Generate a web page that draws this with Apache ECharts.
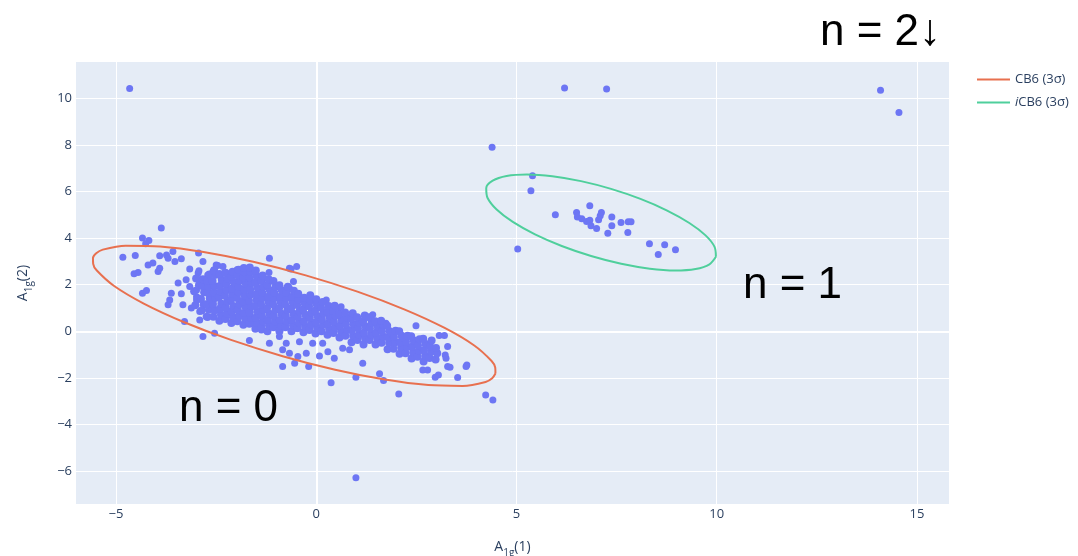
<!DOCTYPE html>
<html>
<head>
<meta charset="utf-8">
<script src="https://cdn.jsdelivr.net/npm/echarts@6/dist/echarts.min.js"></script>
<style>
html,body{margin:0;padding:0;background:#fff;}
#chart{width:1078px;height:556px;}
</style>
</head>
<body>
<div id="chart"></div>
<script>
// ---- tick labels ----
const xTicks = [-5, 0, 5, 10, 15];
const yTicks = [-6, -4, -2, 0, 2, 4, 6, 8, 10];

// ---- legend / series names ----
const ellipseNames = ['CB6 (3σ)', 'iCB6 (3σ)'];

// ---- n = 0 cluster: sparse / individually read points ----
const n0Sparse = [
  [-4.66,10.41],[0.99,-6.27],[4.23,-2.73],[4.41,-2.94],
  [-3.87,4.43],[-4.34,4.00],[-4.18,3.90],[-4.26,3.76],[-4.83,3.18],[-4.52,3.25],[-3.91,3.24],[-3.74,3.28],
  [-3.70,3.14],[-3.58,3.43],[-3.53,3.00],[-3.37,3.11],[-4.08,2.93],[-4.20,2.85],[-3.91,2.71],[-3.95,2.57],
  [-4.45,2.52],[-4.55,2.47],[-2.94,3.36],[-2.83,3.00],[-3.16,2.67],[-2.95,2.50],[-2.91,2.21],[-2.50,2.85],
  [-2.29,2.50],[-2.71,2.42],[-3.45,2.07],[-3.25,2.21],[-3.37,1.61],[-3.62,1.64],[-3.66,1.35],[-3.70,1.14],
  [-4.34,1.64],[-4.24,1.75],[-3.33,1.14],[-3.29,0.42],[-2.83,-0.22],[-2.54,-0.08],[-3.16,1.92],[-2.99,1.78],
  [-2.99,1.35],[-3.12,1.00],[-2.91,0.85],[-2.75,0.64],[-2.91,0.49],[-2.99,1.49],
  [-2.93,2.60],[-2.46,2.83],[-0.63,2.67],[-2.58,2.57],[-2.25,2.50],[-1.98,2.64],
  [-1.17,3.14],[-0.67,2.71],[-0.49,2.78],[-1.18,2.52],[-0.57,2.14],[-0.67,1.85],[0.25,1.35],[0.08,1.21],
  [0.58,1.00],[-1.67,-0.39],[-1.58,0.35],[-1.37,0.06],[-1.17,-0.51],[-0.92,-0.22],[-0.84,-0.79],[-0.67,-0.94],
  [-0.46,-1.08],[-0.84,-1.51],[-0.54,-1.37],[-0.19,-1.51],[0.08,-1.05],[0.29,-0.87],[0.45,-1.15],[0.37,-2.20],
  [-0.25,-0.94],[-0.42,-0.44],[-0.75,-0.51],[-0.09,-0.51],[0.16,-0.51],[-1.00,0.21],[-1.33,0.57],[-2.37,0.71],
  [-2.08,0.64],[-2.33,2.78],[-2.04,2.50],
  [2.49,0.24],[3.07,-0.18],[3.20,-0.18],[3.28,-0.65],[3.22,-1.01],[3.24,-1.15],[3.28,-1.51],[3.34,-1.54],
  [3.05,-1.87],[2.97,-1.97],[3.53,-1.98],[3.76,-1.44],[3.74,-1.51],[2.66,-1.65],[2.78,-1.65],[1.16,-1.37],
  [0.99,-1.97],[1.58,-1.82],[1.68,-2.11],[2.06,-2.68],[0.66,-0.72],[0.83,-0.79],[1.41,0.71],[1.74,0.35],[0.62,1.06]
];

// ---- n = 0 cluster: dense core ----
const n0Core = [
  [-3.02,1.12],[-2.96,1.41],[-3.05,1.72],[-2.93,1.98],[-3.00,2.27],
  [-2.86,0.90],[-2.81,1.15],[-2.88,1.39],[-2.80,1.68],[-2.85,1.95],[-2.83,2.24],
  [-2.72,0.62],[-2.68,0.93],[-2.74,1.16],[-2.66,1.42],[-2.71,1.66],[-2.69,1.91],[-2.73,2.17],[-2.67,2.44],
  [-2.57,0.63],[-2.53,0.91],[-2.58,1.18],[-2.52,1.43],[-2.56,1.67],[-2.54,1.94],[-2.59,2.16],[-2.51,2.43],[-2.55,2.62],
  [-2.42,0.46],[-2.38,0.71],[-2.41,0.97],[-2.37,1.19],[-2.43,1.46],[-2.39,1.71],[-2.40,1.96],[-2.36,2.21],[-2.42,2.46],
  [-2.27,0.53],[-2.23,0.78],[-2.26,1.01],[-2.22,1.28],[-2.28,1.53],[-2.24,1.76],[-2.25,2.03],[-2.21,2.26],[-2.27,2.51],
  [-2.12,0.36],[-2.08,0.61],[-2.11,0.86],[-2.07,1.09],[-2.13,1.36],[-2.09,1.61],[-2.10,1.84],[-2.06,2.11],[-2.12,2.34],[-2.09,2.56],
  [-1.97,0.43],[-1.93,0.68],[-1.96,0.93],[-1.92,1.16],[-1.98,1.43],[-1.94,1.68],[-1.95,1.91],[-1.91,2.18],[-1.97,2.41],[-1.94,2.64],
  [-1.82,0.29],[-1.78,0.56],[-1.81,0.79],[-1.77,1.06],[-1.83,1.29],[-1.79,1.54],[-1.80,1.81],[-1.76,2.04],[-1.82,2.31],[-1.79,2.54],[-1.81,2.72],
  [-1.67,0.33],[-1.63,0.58],[-1.66,0.81],[-1.62,1.08],[-1.68,1.31],[-1.64,1.58],[-1.65,1.81],[-1.61,2.08],[-1.67,2.31],[-1.64,2.56],[-1.66,2.74],
  [-1.52,0.11],[-1.48,0.36],[-1.51,0.59],[-1.47,0.86],[-1.53,1.09],[-1.49,1.36],[-1.50,1.59],[-1.46,1.86],[-1.52,2.09],[-1.49,2.36],[-1.51,2.61],
  [-1.37,0.18],[-1.33,0.43],[-1.36,0.66],[-1.32,0.93],[-1.38,1.16],[-1.34,1.43],[-1.35,1.66],[-1.31,1.93],[-1.37,2.16],[-1.34,2.40],
  [-1.22,0.01],[-1.18,0.26],[-1.21,0.49],[-1.17,0.76],[-1.23,0.99],[-1.19,1.26],[-1.20,1.49],[-1.16,1.76],[-1.22,1.99],[-1.19,2.24],
  [-1.07,0.18],[-1.03,0.43],[-1.06,0.66],[-1.02,0.93],[-1.08,1.16],[-1.04,1.43],[-1.05,1.66],[-1.01,1.93],[-1.07,2.16],
  [-0.92,0.01],[-0.88,0.26],[-0.91,0.49],[-0.87,0.76],[-0.93,0.99],[-0.89,1.26],[-0.90,1.49],[-0.86,1.76],[-0.92,1.98],
  [-0.77,0.18],[-0.73,0.43],[-0.76,0.66],[-0.72,0.93],[-0.78,1.16],[-0.74,1.43],[-0.75,1.66],[-0.71,1.91],
  [-0.62,0.01],[-0.58,0.26],[-0.61,0.49],[-0.57,0.76],[-0.63,0.99],[-0.59,1.26],[-0.60,1.49],[-0.56,1.74],
  [-0.47,0.14],[-0.43,0.38],[-0.46,0.63],[-0.42,0.86],[-0.48,1.13],[-0.44,1.36],[-0.45,1.61],
  [-0.32,-0.04],[-0.28,0.21],[-0.31,0.44],[-0.27,0.71],[-0.33,0.94],[-0.29,1.21],[-0.30,1.44],
  [-0.17,0.06],[-0.13,0.31],[-0.16,0.58],[-0.12,0.81],[-0.18,1.08],[-0.14,1.31],[-0.15,1.55],
  [-0.02,-0.09],[0.02,0.16],[-0.01,0.39],[0.03,0.66],[-0.03,0.89],[0.01,1.16],[0.00,1.38],
  [0.13,0.01],[0.17,0.28],[0.14,0.51],[0.18,0.78],[0.12,1.01],[0.16,1.26],
  [0.28,-0.14],[0.32,0.11],[0.29,0.34],[0.33,0.61],[0.27,0.84],[0.31,1.09],
  [0.43,-0.07],[0.47,0.18],[0.44,0.41],[0.48,0.68],[0.42,0.89],[0.46,1.10],
  [0.58,-0.26],[0.62,0.01],[0.59,0.24],[0.63,0.51],[0.57,0.74],
  [0.73,-0.19],[0.77,0.08],[0.74,0.31],[0.78,0.58],[0.72,0.81],
  [0.88,-0.46],[0.92,-0.19],[0.89,0.04],[0.93,0.31],[0.87,0.54],[0.91,0.78],
  [1.03,-0.37],[1.07,-0.14],[1.04,0.13],[1.08,0.36],[1.02,0.61],
  [1.18,-0.56],[1.22,-0.29],[1.19,-0.06],[1.23,0.21],[1.17,0.44],[1.21,0.68],
  [1.33,-0.37],[1.37,-0.14],[1.34,0.13],[1.38,0.36],[1.32,0.61],
  [1.48,-0.56],[1.52,-0.29],[1.49,-0.06],[1.53,0.21],[1.47,0.44],
  [1.63,-0.49],[1.67,-0.22],[1.64,0.01],[1.68,0.26],[1.62,0.46],
  [1.78,-0.76],[1.82,-0.49],[1.79,-0.26],[1.83,0.01],[1.77,0.24],
  [1.93,-0.74],[1.97,-0.47],[1.94,-0.24],[1.98,0.03],
  [2.08,-0.96],[2.12,-0.69],[2.09,-0.46],[2.13,-0.19],[2.07,0.01],
  [2.23,-0.94],[2.27,-0.67],[2.24,-0.44],[2.28,-0.19],
  [2.38,-1.16],[2.42,-0.89],[2.39,-0.66],[2.43,-0.39],[2.37,-0.21],
  [2.53,-1.09],[2.57,-0.82],[2.54,-0.59],[2.58,-0.34],
  [2.68,-1.29],[2.72,-1.04],[2.69,-0.81],[2.73,-0.54],[2.67,-0.31],
  [2.83,-1.14],[2.87,-0.87],[2.84,-0.64],[2.88,-0.39],
  [2.98,-1.21],[3.02,-0.94],[2.99,-0.71]
];

// ---- n = 1 cluster ----
const n1Points = [
  [5.40,6.67],[5.36,6.03],[5.03,3.53],[5.97,5.00],[6.83,5.39],[6.50,5.10],[6.52,4.90],[6.63,4.83],
  [6.75,4.71],[6.83,4.76],[6.86,4.53],[7.00,4.41],[7.05,4.79],[7.09,4.96],[7.12,5.10],[7.28,4.21],
  [7.38,4.90],[7.38,4.53],[7.61,4.67],[7.79,4.70],[7.86,4.70],[7.78,4.24],[8.32,3.76],[8.70,3.71],
  [8.54,3.30],[8.97,3.50],[4.39,7.89],[6.20,10.44],[7.25,10.39]
];

// ---- n = 2 points ----
const n2Points = [[14.09,10.34],[14.55,9.39]];

// ---- 3σ ellipse outlines (outline vertices) ----
const cb6Ellipse = [
  [4.474,-1.802],[4.393,-2.007],[4.228,-2.166],[3.657,-2.337],[2.798,-2.303],[1.712,-2.067],[0.471,-1.644],
  [-0.839,-1.063],[-2.130,-0.364],[-3.313,0.405],[-4.308,1.193],[-5.047,1.945],[-5.480,2.609],[-5.571,2.895],
  [-5.576,3.142],[-5.495,3.347],[-5.331,3.506],[-4.759,3.677],[-3.900,3.643],[-2.814,3.407],[-1.573,2.984],
  [-0.263,2.403],[1.028,1.704],[2.211,0.935],[3.206,0.147],[3.945,-0.605],[4.378,-1.270],[4.469,-1.555],
  [4.474,-1.802]
];
const icb6Ellipse = [
  [9.980,3.199],[9.818,2.876],[9.472,2.676],[8.964,2.612],[8.330,2.688],[7.614,2.898],[6.863,3.230],
  [6.129,3.660],[5.462,4.159],[4.908,4.692],[4.504,5.224],[4.278,5.718],[4.244,6.141],[4.406,6.464],
  [4.753,6.664],[5.260,6.728],[5.894,6.653],[6.610,6.442],[7.361,6.110],[8.095,5.680],[8.762,5.182],
  [9.316,4.648],[9.721,4.116],[9.946,3.622],[9.980,3.199]
];

// ---- annotations ----
const annotations = ['n = 0', 'n = 1', 'n = 2↓'];

const textColor = '#2a3f5f';
const dotColor = '#6d76f4';
const cb6Color = '#e8704f';
const icb6Color = '#4fcf9c';

const chart = echarts.init(document.getElementById('chart'), null, {renderer: 'canvas'});

const axisNameRich = {
  m: {fontSize: 14, color: textColor, fontFamily: 'Open Sans', verticalAlign: 'middle', lineHeight: 16},
  s: {fontSize: 10, color: textColor, fontFamily: 'Open Sans', verticalAlign: 'bottom', lineHeight: 22}
};
const minusFmt = function (v) { return String(v).replace('-', '\u2212'); };

const option = {
  animation: false,
  backgroundColor: '#ffffff',
  grid: {left: 76, right: 129, top: 62, bottom: 52, containLabel: false, outerBoundsMode: 'none',
    show: true, backgroundColor: '#e5ecf6', borderWidth: 0},
  xAxis: {
    type: 'value', min: -6, max: 15.8,
    name: '{m|A}{s|1g}{m|(1)}', nameLocation: 'middle', nameGap: 32,
    nameTextStyle: {rich: axisNameRich},
    axisLine: {show: false},
    axisTick: {show: false, customValues: xTicks},
    axisLabel: {customValues: xTicks, formatter: minusFmt, color: textColor, fontSize: 13, fontFamily: 'Open Sans', margin: 4},
    splitLine: {show: true, lineStyle: {color: '#ffffff', width: 1}}
  },
  yAxis: {
    type: 'value', min: -7.4, max: 11.55,
    name: '{m|A}{s|1g}{m|(2)}', nameLocation: 'middle', nameGap: 42, nameRotate: 90,
    nameTextStyle: {rich: axisNameRich},
    axisLine: {show: false},
    axisTick: {show: false, customValues: yTicks},
    axisLabel: {customValues: yTicks, formatter: minusFmt, color: textColor, fontSize: 13, fontFamily: 'Open Sans', margin: 4},
    splitLine: {show: true, lineStyle: {color: '#ffffff', width: 1}}
  },
  legend: {
    data: ellipseNames,
    orient: 'vertical',
    left: 972, top: 68,
    icon: 'rect',
    itemWidth: 33, itemHeight: 2, itemGap: 10,
    textStyle: {color: textColor, fontSize: 13, fontFamily: 'Open Sans',
      rich: {it: {fontStyle: 'italic', color: textColor, fontSize: 13, fontFamily: 'Open Sans'}}},
    formatter: function (name) { return name.charAt(0) === 'i' ? '{it|i}' + name.slice(1) : name; }
  },
  series: [
    {
      type: 'scatter', name: 'points',
      data: n0Sparse.concat(n1Points, n2Points),
      symbolSize: 7,
      itemStyle: {color: dotColor, opacity: 1},
      z: 3,
      markLine: {
        silent: true, symbol: 'none', label: {show: false},
        lineStyle: {color: '#ffffff', width: 2, type: 'solid'},
        data: [{xAxis: 0}, {yAxis: 0}],
        z: 1
      }
    },
    {
      type: 'scatter', name: 'core',
      data: n0Core,
      symbolSize: 8,
      itemStyle: {color: dotColor, opacity: 1},
      z: 3
    },
    {
      type: 'line', name: ellipseNames[0], data: cb6Ellipse,
      symbol: 'none', smooth: 0.3, lineStyle: {color: cb6Color, width: 2}, itemStyle: {color: cb6Color}, z: 4
    },
    {
      type: 'line', name: ellipseNames[1], data: icb6Ellipse,
      symbol: 'none', smooth: 0.3, lineStyle: {color: icb6Color, width: 2}, itemStyle: {color: icb6Color}, z: 4
    }
  ],
  graphic: [
    {type: 'text', left: 179, top: 387, z: 10,
      style: {text: annotations[0], fill: '#000', font: '44px "Liberation Sans", Arial, sans-serif'}},
    {type: 'text', left: 743, top: 264, z: 10,
      style: {text: annotations[1], fill: '#000', font: '44px "Liberation Sans", Arial, sans-serif'}},
    {type: 'text', left: 820, top: 11, z: 10,
      style: {text: annotations[2], fill: '#000', font: '44px "Liberation Sans", Arial, sans-serif'}}
  ]
};

chart.setOption(option);
</script>
</body>
</html>
